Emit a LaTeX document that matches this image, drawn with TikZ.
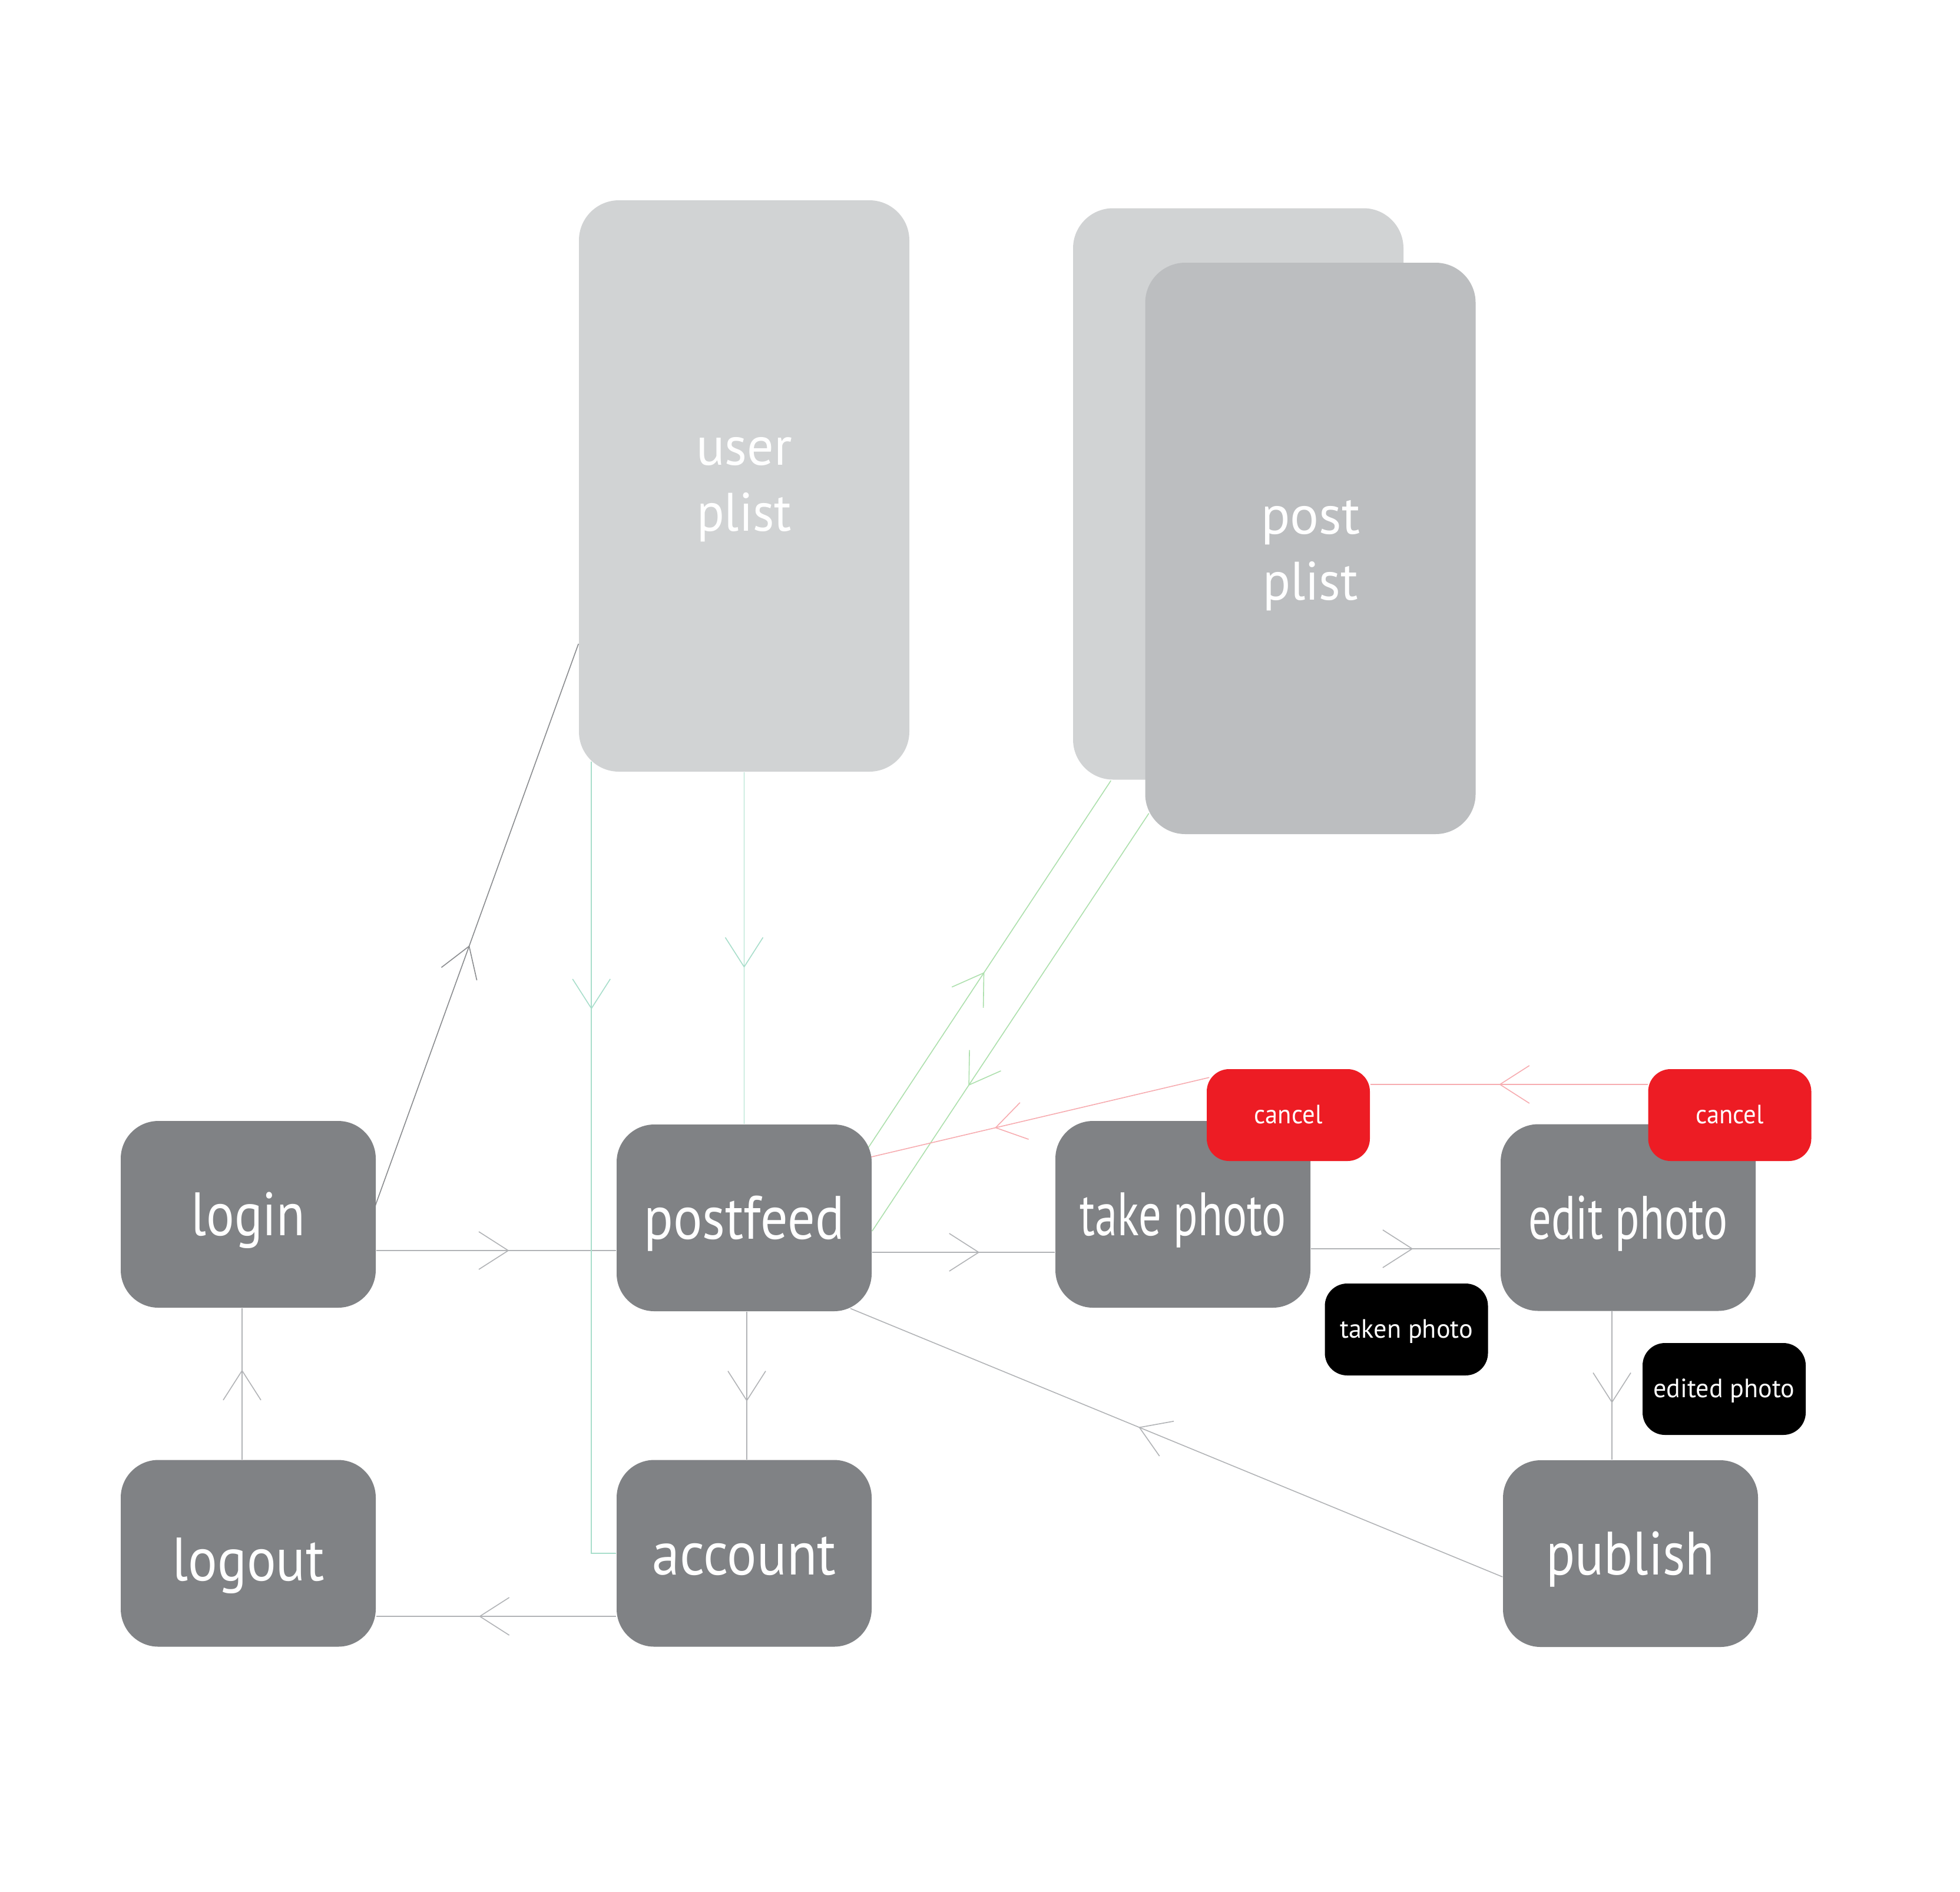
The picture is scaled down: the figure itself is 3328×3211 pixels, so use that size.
\documentclass[tikz,border=0pt]{standalone}
\usepackage{fontspec}
\setmainfont{PT Sans}
\usetikzlibrary{arrows.meta,decorations.markings,calc}
\definecolor{boxgray}{HTML}{808285}
\definecolor{cardlight}{HTML}{D1D3D4}
\definecolor{carddark}{HTML}{BCBEC0}
\definecolor{cancelred}{HTML}{ED1C24}
\definecolor{linegray}{HTML}{B1B3B6}
\definecolor{linedark}{HTML}{8A8C8F}
\definecolor{linemint}{HTML}{A8DECB}
\definecolor{linegreen}{HTML}{ADE0AD}
\definecolor{linepink}{HTML}{F7ACB0}
\pgfdeclarelayer{bg}
\pgfsetlayers{bg,main}
\newcommand\hfitw[2]{\resizebox{#1}{\height}{#2}}
\begin{document}
\begin{tikzpicture}[x=0.25pt,y=-0.25pt,
  screen/.style={rectangle, rounded corners=16pt, fill=boxgray, text=white,
    minimum width=108.25pt, minimum height=79.25pt, inner sep=0pt,
    text height=18pt, text depth=0pt,
    font=\fontsize{26}{30}\selectfont},
  card/.style={rectangle, rounded corners=17pt, minimum width=140.25pt,
    minimum height=242.5pt, inner sep=0pt},
  cardtext/.style={inner sep=0pt, text=white, align=center,
    font=\fontsize{23}{28}\selectfont},
  tag/.style={rectangle, rounded corners=9.5pt, minimum width=69.25pt,
    minimum height=39pt, inner sep=0pt, text=white,
    text height=7pt, text depth=0pt,
    font=\fontsize{11.25}{13}\selectfont},
  conn/.style={line width=0.4pt},
  arrat/.style={postaction={decorate},decoration={markings,
    mark=at position #1 with {\arrow{Straight Barb[length=12.5pt,width=16pt]}}}},
]
\path[use as bounding box] (0,0) rectangle (3328,3211);

% cards
\node[card, fill=cardlight] (userplist) at (1263.5,825) {};
\node[card, fill=cardlight] (postback) at (2102.5,838.5) {};
\node[card, fill=carddark] (postfront) at (2225,931) {};
\node[cardtext] (usertext) at ($(userplist.center)+(0,6)$) {\hfitw{40.75pt}{user}\\\hfitw{40.25pt}{plist}};
\node[cardtext] (posttext) at ($(postfront.center)+(0,12)$) {\hfitw{42pt}{post}\\\hfitw{40.5pt}{plist}};

% screens
\node[screen] (login) at (421.5,2061.5) {\hfitw{48.5pt}{login}};
\node[screen] (postfeed) at (1263.5,2067.5) {\hfitw{85pt}{postfeed}};
\node[screen] (takephoto) at (2008.5,2061.5) {\hfitw{87.5pt}{take photo}};
\node[screen] (editphoto) at (2764.5,2067) {\hfitw{84.5pt}{edit photo}};
\node[screen, text height=23pt] (logout) at (421.5,2637) {\hfitw{64.5pt}{logout}};
\node[screen] (account) at (1263.5,2637) {\hfitw{78pt}{account}};
\node[screen] (publish) at (2768.5,2637.5) {\hfitw{71.5pt}{publish}};

% tags
\node[tag, fill=cancelred] (cancel1) at (2187.5,1893) {\hfitw{29pt}{cancel}};
\node[tag, fill=cancelred] (cancel2) at (2937,1893) {\hfitw{29pt}{cancel}};
\node[tag, fill=black] (taken) at (2388,2257) {\hfitw{56.5pt}{taken photo}};
\node[tag, fill=black] (edited) at (2927.5,2358) {\hfitw{60pt}{edited photo}};

\coordinate (ua) at ($(userplist.south west)+(22,-18)$);

\begin{pgfonlayer}{bg}
\fill[white] (0,0) rectangle (3328,3211);
\draw[conn, linegray, arrat=0.554] ($(login.east)+(0,61.5)$) -- ($(postfeed.west)+(0,55.5)$);
\draw[conn, linedark, arrat=0.464] ($(login.east)+(-2,-13.5)$) -- ($(userplist.west)+(0,268)$);
\draw[conn, linegray, arrat=0.593] ($(logout.north)+(-10.5,0)$) -- ($(login.south)+(-10.5,0)$);
\draw[conn, linegray, arrat=0.572] ($(account.west)+(0,107)$) -- ($(logout.east)+(0,107)$);
\draw[conn, linegray, arrat=0.607] ($(postfeed.south)+(4.5,0)$) -- ($(account.north)+(4.5,0)$);
\draw[conn, linemint, arrat=0.556] (userplist.south) -- (postfeed.north);
\draw[conn, linemint, arrat=0.3035] (ua) -- (ua |- account.west) -- (account.west);
\draw[conn, linegreen, arrat=0.479] ($(postfeed.north east)+(-7,41)$) -- ($(postback.south west)+(65,1)$);
\draw[conn, linegreen, arrat=0.652] ($(postfront.south west)+(7,-36)$) -- ($(postfeed.east)+(0,22.5)$);
\draw[conn, linepink, arrat=0.634] ($(cancel1.north west)+(5,15)$) -- ($(postfeed.north east)+(-2,56)$);
\draw[conn, linepink, arrat=0.536] ($(cancel2.west)+(0,-52)$) -- ($(cancel1.east)+(0,-52)$);
\draw[conn, linegray, arrat=0.588] ($(postfeed.east)+(0,58.5)$) -- ($(takephoto.west)+(0,64.5)$);
\draw[conn, linegray, arrat=0.540] ($(takephoto.east)+(0,58.5)$) -- ($(editphoto.west)+(0,53)$);
\draw[conn, linegray, arrat=0.618] ($(editphoto.south)+(-27.5,0)$) -- ($(publish.north)+(-31.5,0)$);
\draw[conn, linegray, arrat=0.558] ($(publish.west)+(0,39.5)$) -- ($(postfeed.south east)+(-37,-5.5)$);
\end{pgfonlayer}
\end{tikzpicture}
\end{document}
